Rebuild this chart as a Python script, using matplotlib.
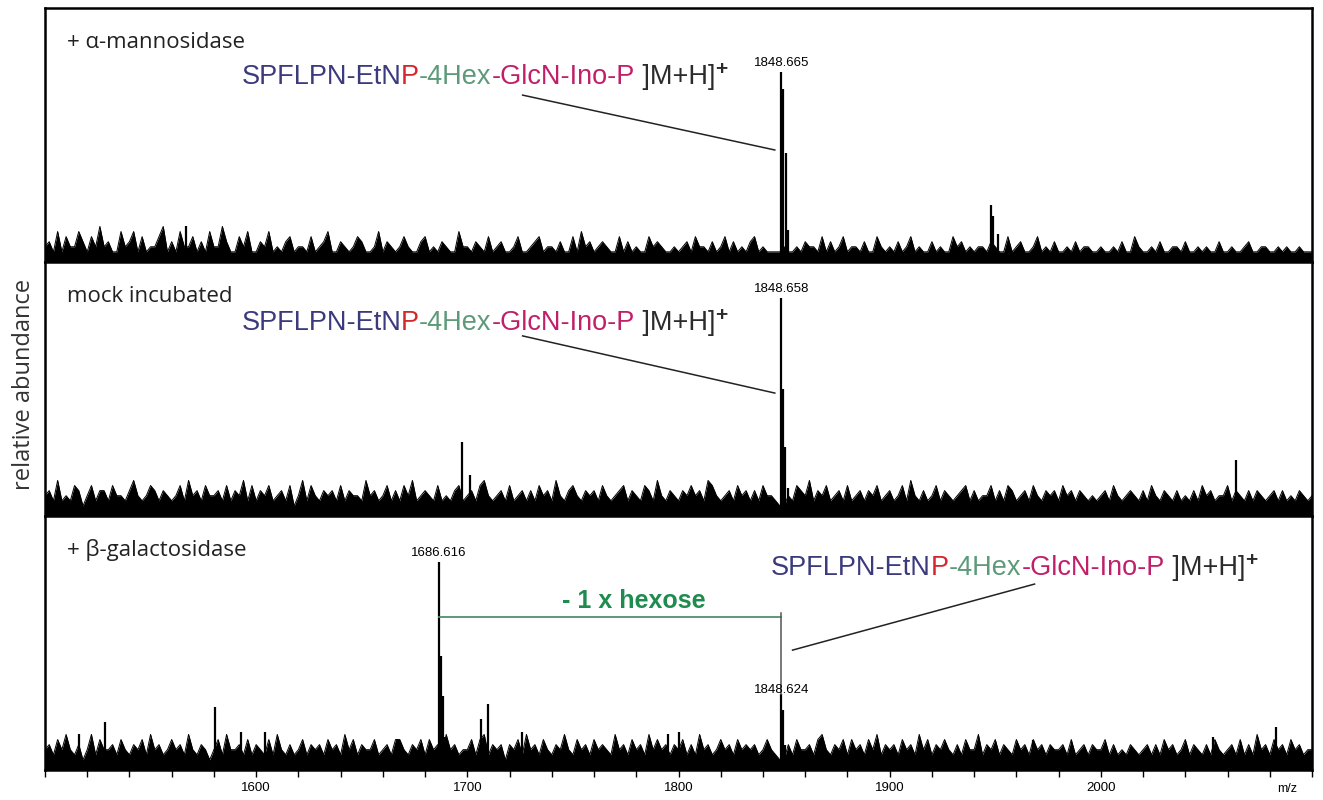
import numpy as np
import matplotlib.pyplot as plt
from matplotlib.ticker import MultipleLocator

# noise floor: one digit per 2 m/z from 1500, 1 digit = 2 % of panel height
alpha_noise = ("3426253364" "2537342263" "4625233572" "4263352426" "3374225362"
               "2436232452" "3325234622" "4323542236" "2432353224" "5232432263"
               "3243252342" "2352234523" "3242252634" "2343225242" "3225343223"
               "2342533242" "3524232452" "3222232232" "4332524235" "2332422532"
               "3242352322" "4232253423" "2332432252" "3422352324" "2232423322"
               "3223242253" "2232422332" "4223232242" "2322342233" "2232322322" "2")
mock_noise = ("4537343652" "4635536443" "5743465354" "3463745364" "4536354736"
              "3546345362" "4736435453" "6354437453" "4635364734" "5436343563"
              "4536743453" "6345353645" "3743564354" "5364345635" "4365374354"
              "3546453764" "3453645353" "6443224365" "4735463453" "6345354634"
              "5346374353" "4635434563" "5344635365" "3453643545" "3645354343"
              "4536434543" "5364354353" "4353645344" "6354353543" "4535343543" "4")
beta_noise = ("4536474352" "4736445364" "3546374534" "6453743542" "4637445363"
              "5436374353" "4635453645" "3746354463" "4536643546" "3645374534"
              "4636735452" "5463745364" "3547436453" "6454374536" "4537464535"
              "4635374534" "6453645453" "4643225364" "4536743546" "3645364735"
              "4536453746" "3546435364" "4735463543" "6453645354" "4536345354"
              "4635343543" "4535364534" "6354353643" "4536353745" "3645364534" "4")

# peaks standing out of the noise (m/z, % of panel height)
alpha_mz = [1848.665, 1849.67, 1850.67, 1851.67, 1947.9, 1948.9, 1951.5, 1567]
alpha_int = [74.8, 68, 43, 12.5, 22.5, 18, 11, 14]
mock_mz = [1848.658, 1849.66, 1850.66, 1851.66, 1697.5, 1701.5, 2064]
mock_int = [85.8, 50, 27, 11, 29, 16, 22]
beta_mz = [1686.616, 1687.62, 1688.62, 1689.62, 1706.5, 1710, 1580.5, 1528.5, 1516,
           1593, 1604, 1726, 1795, 1800, 1848.624, 1849.63, 1850.63, 1968, 2053, 2083]
beta_int = [81.9, 45, 29, 13, 20, 26, 25, 19, 14, 15, 15, 15, 14, 15, 30, 23.5, 10, 12, 13, 17]

panel_names = ["+ \u03b1-mannosidase", "mock incubated", "+ \u03b2-galactosidase"]
label_peaks = [(1848.665, 74.8, "1848.665"), (1848.658, 85.8, "1848.658")]

formula_parts = [("SPFLPN-EtN", "#3b3a7c"), ("P", "#d4262b"), ("-4Hex", "#5d9a7a"),
                 ("-GlcN-Ino-P", "#c0206a"), (" ]M+H]", "#2b2b2b")]
ARIAL = "Liberation Sans"


def draw_panel(ax, noise, mz, inten):
    vals = np.array([int(c) for c in noise]) * 2.0
    x = 1500 + 2 * np.arange(len(vals))
    ax.fill_between(x, 0, vals, color="black", lw=0)
    ax.plot(x, vals, color="black", lw=0.7)
    ax.vlines(mz, 0, inten, color="black", lw=1.6)


def formula(ax, x, y):
    t = ax.text(x, y, formula_parts[0][0], color=formula_parts[0][1], transform=ax.transAxes,
                fontsize=19.5, va="bottom", family=ARIAL)
    for s, c in formula_parts[1:]:
        t = ax.annotate(s, xy=(1, 0), xycoords=t, va="bottom", color=c,
                        fontsize=19.5, family=ARIAL)
    ax.annotate("+", xy=(1, 0.42), xycoords=t, va="bottom", color="#2b2b2b",
                fontsize=15, fontweight="bold", family=ARIAL)


fig, axes = plt.subplots(3, 1, figsize=(13.23, 8), dpi=100, sharex=True)
fig.subplots_adjust(left=0.034, right=0.9917, bottom=0.0375, top=0.99, hspace=0)

for ax, noise, mz, inten, name in zip(axes, [alpha_noise, mock_noise, beta_noise],
                                      [alpha_mz, mock_mz, beta_mz],
                                      [alpha_int, mock_int, beta_int], panel_names):
    draw_panel(ax, noise, mz, inten)
    ax.set_xlim(1500, 2100)
    ax.set_ylim(0, 100)
    ax.set_yticks([])
    for s in ax.spines.values():
        s.set_linewidth(1.8)
    ax.text(0.017, 0.865, name, transform=ax.transAxes, fontsize=16, va="center",
            family="Open Sans", color="#222222")

# peak labels in the top two panels
for ax, (pmz, pint, lab) in zip(axes[:2], label_peaks):
    ax.text(pmz, pint + 1.2, lab, ha="center", va="bottom", fontsize=9.5, family=ARIAL)

# formula annotations with leader lines
formula(axes[0], 0.155, 0.676)
axes[0].plot([0.377, 0.576], [0.657, 0.441], transform=axes[0].transAxes, color="#222222", lw=1.1)
formula(axes[1], 0.155, 0.708)
axes[1].plot([0.377, 0.576], [0.709, 0.484], transform=axes[1].transAxes, color="#222222", lw=1.1)
formula(axes[2], 0.573, 0.744)
axes[2].plot([0.781, 0.590], [0.732, 0.472], transform=axes[2].transAxes, color="#222222", lw=1.1)

# hexose loss bracket in the bottom panel
ax3 = axes[2]
ax3.plot([1686.616, 1848.624], [60.2, 60.2], color="#4f8f6e", lw=1.3)
ax3.plot([1848.624, 1848.624], [61.8, 30], color="#555555", lw=1.1)
ax3.text(1779, 66.5, "- 1 x hexose", ha="center", va="center", fontsize=18,
         fontweight="bold", color="#1e8c4e", family=ARIAL)
ax3.text(1686.616, 83.2, "1686.616", ha="center", va="bottom", fontsize=9.5, family=ARIAL)
ax3.text(1848.624, 31.5, "1848.624", ha="center", va="center", fontsize=9.5, family=ARIAL)

ax3.xaxis.set_major_locator(MultipleLocator(100))
ax3.xaxis.set_minor_locator(MultipleLocator(20))
ax3.set_xticks([1600, 1700, 1800, 1900, 2000])
ax3.tick_params(axis="x", which="both", direction="out", length=5, width=1, labelsize=9.5)
for lab in ax3.get_xticklabels():
    lab.set_family(ARIAL)
ax3.annotate("m/z", xy=(0.988, -0.075), xycoords="axes fraction", ha="right", va="center",
             fontsize=9, family=ARIAL)

fig.text(0.018, 0.52, "relative abundance", rotation=90, ha="center", va="center",
         fontsize=17, family="Open Sans", color="#333333")

fig.savefig("out.png", dpi=100)
